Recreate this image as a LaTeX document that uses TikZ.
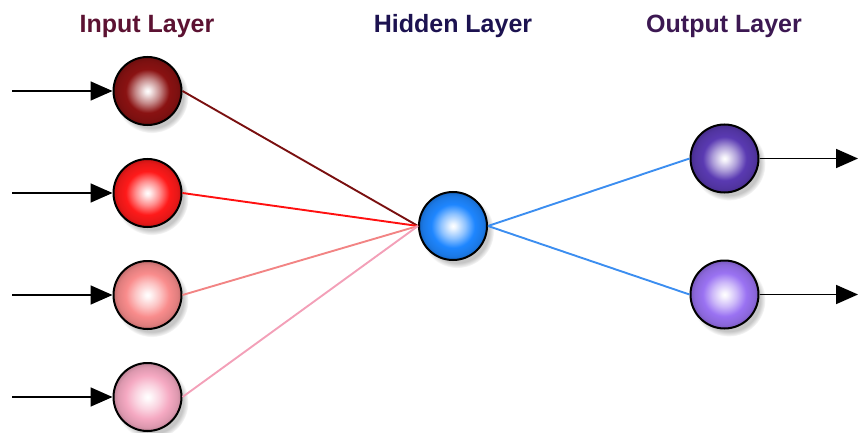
\documentclass[tikz,border=0pt]{standalone}
\usepackage{fontspec}
\setmainfont{Liberation Sans}
\usetikzlibrary{arrows.meta,shadows,fadings}
\definecolor{cin1}{HTML}{8A1212}
\definecolor{cin2}{HTML}{FF1A1A}
\definecolor{cin3}{HTML}{F98C8C}
\definecolor{cin4}{HTML}{F5A9C2}
\definecolor{chid}{HTML}{1E86FF}
\definecolor{cout1}{HTML}{5A3AB2}
\definecolor{cout2}{HTML}{9A72F2}
\definecolor{lin1}{HTML}{7A1010}
\definecolor{lin2}{HTML}{FF1010}
\definecolor{lin3}{HTML}{F28484}
\definecolor{lin4}{HTML}{F3A0B8}
\definecolor{lhid}{HTML}{3C8EF0}
\definecolor{tin}{HTML}{5C1232}
\definecolor{thid}{HTML}{1C1250}
\definecolor{tout}{HTML}{3C1852}
\colorlet{orbc}{red}
\pgfdeclareradialshading[orbc]{orb}{\pgfpoint{0bp}{0bp}}{%
  color(0bp)=(white); color(2bp)=(orbc!8!white); color(9bp)=(orbc!50!white);
  color(16bp)=(orbc); color(22bp)=(orbc!90!black); color(25bp)=(orbc!78!black);
  color(50bp)=(orbc!78!black)}
\tikzset{
  orb/.style={/utils/exec={\colorlet{orbc}{#1}}, circle, minimum size=68pt,
    inner sep=0pt, draw=black, line width=2pt, shading=orb,
    circular drop shadow={shadow xshift=4pt, shadow yshift=-5pt, shadow scale=1.08, opacity=0.45}},
  title/.style={font=\bfseries\fontsize{25}{30}\selectfont, anchor=base},
  inarrow/.style={draw=black, line width=1.8pt, -{Triangle[length=22pt,width=19pt]}},
  link/.style={line width=1.9pt}
}
\begin{document}
\begin{tikzpicture}[x=1pt,y=-1pt]
\useasboundingbox (0,0) rectangle (859,433);
% titles
\node[title, text=tin] (tinput) at (147,33) {Input Layer};
\node[title, text=thid] (thidden) at (453,33) {Hidden Layer};
\node[title, text=tout] (toutput) at (724,33) {Output Layer};
% arrow start/end points
\coordinate (s1) at (12,91);
\coordinate (s2) at (12,193);
\coordinate (s3) at (12,295);
\coordinate (s4) at (12,397);
\coordinate (e1) at (858,158.5);
\coordinate (e2) at (858,294.5);
% nodes
\node[orb=cin1] (in1) at (147.5,91) {};
\node[orb=cin2] (in2) at (147.5,193) {};
\node[orb=cin3] (in3) at (147.5,295) {};
\node[orb=cin4] (in4) at (147.5,397) {};
\node[orb=chid] (hid) at (453,226) {};
\node[orb=cout1] (out1) at (724.5,158.5) {};
\node[orb=cout2] (out2) at (724.5,294.5) {};
% connections
\draw[link, lin1] (in1.east) -- (hid.west);
\draw[link, lin2] (in2.east) -- (hid.west);
\draw[link, lin3] (in3.east) -- (hid.west);
\draw[link, lin4] (in4.east) -- (hid.west);
\draw[link, lhid] (hid.east) -- (out1.west);
\draw[link, lhid] (hid.east) -- (out2.west);
% input / output arrows
\draw[inarrow] (s1) -- (in1.west);
\draw[inarrow] (s2) -- (in2.west);
\draw[inarrow] (s3) -- (in3.west);
\draw[inarrow] (s4) -- (in4.west);
\draw[inarrow] (out1.east) -- (e1);
\draw[inarrow] (out2.east) -- (e2);
\end{tikzpicture}
\end{document}
